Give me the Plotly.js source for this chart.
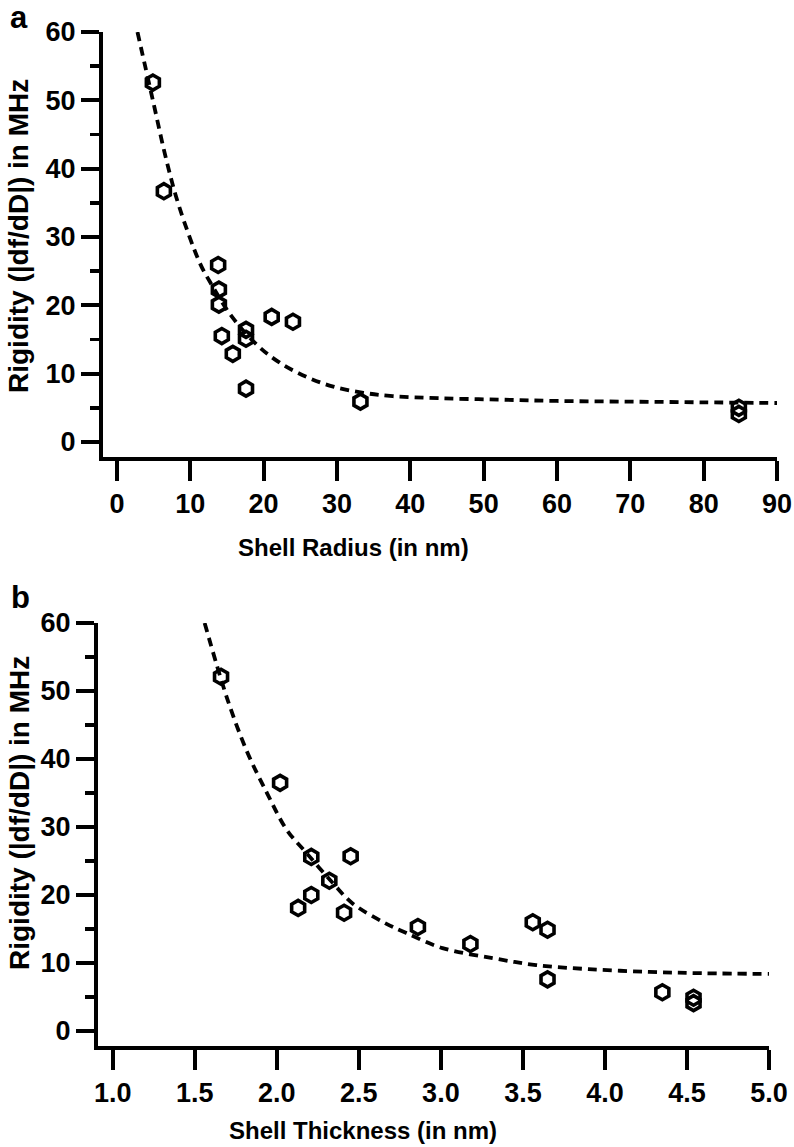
<!DOCTYPE html>
<html>
<head>
<meta charset="utf-8">
<script src="https://cdn.plot.ly/plotly-3.0.1.min.js"></script>
<style>html,body{margin:0;padding:0;background:#fff;}#chart{width:794px;height:1147px;}</style>
</head>
<body>
<div id="chart"></div>
<script>
// Panel a: rigidity vs shell radius
const radiusX = [4.9, 6.4, 13.8, 13.9, 13.9, 14.3, 15.8, 17.6, 17.6, 17.6, 21.1, 24.0, 33.2, 84.8, 84.8];
const radiusY = [52.6, 36.7, 25.9, 22.3, 20.1, 15.5, 12.9, 16.4, 15.1, 7.8, 18.3, 17.6, 5.9, 5.0, 4.1];
const fitRadiusX = [2.8, 4.9, 6.8, 8.5, 11.3, 12.7, 15.7, 19.1, 22.2, 25.9, 29.5, 33.6, 37.6, 44, 52, 60, 70, 80, 90];
const fitRadiusY = [60, 50, 41, 34.4, 26.2, 23.4, 18.3, 14.2, 11.6, 9.5, 8.1, 7.2, 6.7, 6.4, 6.2, 6.0, 5.9, 5.8, 5.7];

// Panel b: rigidity vs shell thickness
const thickX = [1.66, 2.02, 2.21, 2.45, 2.32, 2.21, 2.13, 2.41, 2.86, 3.18, 3.56, 3.65, 3.65, 4.35, 4.54, 4.54];
const thickY = [52.1, 36.5, 25.6, 25.7, 22.1, 20.0, 18.1, 17.4, 15.3, 12.8, 16.0, 14.9, 7.6, 5.7, 4.9, 4.1];
const fitThickX = [1.56, 1.7, 1.82, 1.94, 2.06, 2.18, 2.34, 2.46, 2.65, 2.79, 3.01, 3.32, 3.58, 3.9, 4.27, 4.6, 5.0];
const fitThickY = [60, 48.7, 41, 35, 29.6, 26.2, 21.8, 18.8, 16.0, 14.4, 12.2, 10.7, 9.7, 9.1, 8.7, 8.5, 8.4];

const radiusTicks = [0, 10, 20, 30, 40, 50, 60, 70, 80, 90];
const thickTicks = [1.0, 1.5, 2.0, 2.5, 3.0, 3.5, 4.0, 4.5, 5.0];
const rigidityTicks = [0, 10, 20, 30, 40, 50, 60];

const yTitle = 'Rigidity (|df/dD|) in MHz';
const xTitleA = 'Shell Radius (in nm)';
const xTitleB = 'Shell Thickness (in nm)';

const FONT = 'Liberation Sans, Arial, Helvetica, sans-serif';
const W = 794, H = 1147;

const markerStyle = {symbol: 'hexagon-open', size: 15, color: '#000', line: {width: 3.6, color: '#000'}};
const fitLine = {color: '#000', width: 3.8, dash: '9px,6px'};

const data = [
  {x: fitRadiusX, y: fitRadiusY, xaxis: 'x', yaxis: 'y', mode: 'lines', line: Object.assign({shape: 'spline'}, fitLine), hoverinfo: 'skip'},
  {x: radiusX, y: radiusY, xaxis: 'x', yaxis: 'y', mode: 'markers', marker: markerStyle},
  {x: fitThickX, y: fitThickY, xaxis: 'x2', yaxis: 'y2', mode: 'lines', line: Object.assign({shape: 'spline'}, fitLine), hoverinfo: 'skip'},
  {x: thickX, y: thickY, xaxis: 'x2', yaxis: 'y2', mode: 'markers', marker: markerStyle}
];

const tickFont = {family: FONT, size: 27, color: '#000', weight: 'bold'};
function xAxis(dom, range, ticks, anchor, fmt) {
  return {domain: dom, range: range, tickmode: 'array', tickvals: ticks, ticktext: ticks.map(v => fmt ? v.toFixed(1) : String(v)),
    ticks: 'outside', ticklen: 20, tickwidth: 4, tickcolor: '#000', showline: true, linewidth: 4, linecolor: '#000',
    showgrid: false, zeroline: false, anchor: anchor, tickfont: tickFont, automargin: false, fixedrange: true};
}
function yAxis(dom, anchor) {
  return {domain: dom, range: [-2.2, 60], tickmode: 'array', tickvals: rigidityTicks,
    ticks: 'outside', ticklen: 18, tickwidth: 4, tickcolor: '#000', showline: true, linewidth: 4, linecolor: '#000',
    minor: {tickmode: 'array', tickvals: [5, 15, 25, 35, 45, 55], ticks: 'outside', ticklen: 9, tickwidth: 3.5, tickcolor: '#000'},
    showgrid: false, zeroline: false, anchor: anchor, tickfont: tickFont, automargin: false, fixedrange: true};
}
const titleFont = {family: FONT, size: 24, color: '#000', weight: 'bold'};
function ann(text, px, py, angle, font) {
  return {text: text, xref: 'paper', yref: 'paper', x: px / W, y: 1 - py / H, xanchor: 'center', yanchor: 'middle',
    showarrow: false, textangle: angle || 0, font: font || titleFont};
}
const letterFont = {family: FONT, size: 31, color: '#000', weight: 'bold'};
const yTitleFont = {family: FONT, size: 28, color: '#000', weight: 'bold'};

const layout = {
  width: W, height: H, margin: {l: 0, r: 0, t: 0, b: 0}, paper_bgcolor: '#fff', plot_bgcolor: 'rgba(0,0,0,0)',
  showlegend: false,
  xaxis: xAxis([103 / W, 777 / W], [-1.9, 90], radiusTicks, 'y', false),
  yaxis: yAxis([1 - 457 / H, 1 - 32 / H], 'x'),
  xaxis2: xAxis([98 / W, 769 / W], [0.91, 5.0], thickTicks, 'y2', true),
  yaxis2: yAxis([1 - 1046 / H, 1 - 623 / H], 'x2'),
  annotations: [
    ann(xTitleA, 353, 548),
    ann(xTitleB, 363, 1130),
    ann(yTitle, 19, 236, -90, yTitleFont),
    ann(yTitle, 19, 813, -90, yTitleFont),
    ann('a', 19, 17, 0, letterFont),
    ann('b', 20, 597, 0, letterFont)
  ]
};
Plotly.newPlot('chart', data, layout, {staticPlot: true, displayModeBar: false});
</script>
</body>
</html>
